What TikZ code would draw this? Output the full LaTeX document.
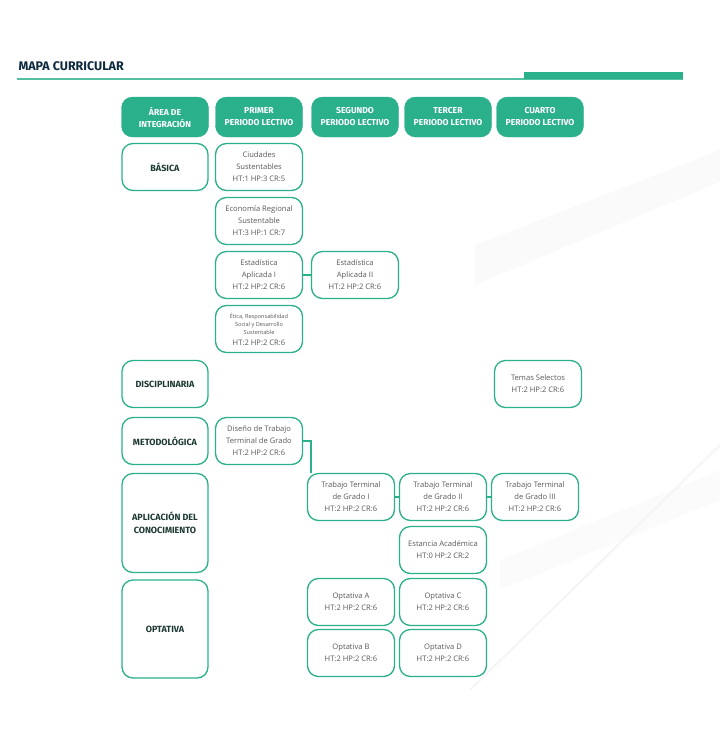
\documentclass[tikz,border=0pt]{standalone}
\usepackage{fontspec}
\setmainfont{Open Sans}
\newfontfamily\hfont{Fira Sans}
\begin{document}
\definecolor{teal}{HTML}{2BB08C}
\definecolor{navy}{HTML}{0D2A3F}
\definecolor{txt}{HTML}{5A5A5A}
\definecolor{dk}{HTML}{1E3A34}
\begin{tikzpicture}[x=1pt,y=-1pt,
 hd/.style={fill=teal,draw=teal,rounded corners=11pt,text=white,align=center,font=\hfont\bfseries\fontsize{8.6}{12}\selectfont,inner sep=0pt},
 ar/.style={draw=teal,line width=1.3pt,fill=white,rounded corners=11pt,align=center,font=\hfont\bfseries\fontsize{9}{12.5}\selectfont,text=dk,inner sep=0pt},
 cr/.style={draw=teal,line width=1.3pt,fill=white,rounded corners=11pt,align=center,font=\fontsize{7.6}{12}\selectfont,text=txt,inner sep=0pt},
 ln/.style={draw=teal,line width=1.2pt}]
\useasboundingbox (0,0) rectangle (720,756);
\fill[gray!4] (475,245) -- (720,150) -- (720,182) -- (475,285) -- cycle;
\fill[gray!3] (500,560) -- (720,470) -- (720,500) -- (500,590) -- cycle;
\draw[gray!8,line width=2pt] (470,690) -- (720,445);
\node[anchor=west,font=\hfont\bfseries\fontsize{12.5}{14}\selectfont,text=navy] (title) at (15,66) {MAPA CURRICULAR};
\draw[teal!80,line width=1.2pt] (17,79) -- (683,79);
\fill[teal] (524,72) rectangle (683,79);
% headers
\node[hd,minimum width=87pt,minimum height=40pt] (h0) at (165,117) {ÁREA DE\\INTEGRACIÓN};
\node[hd,minimum width=87pt,minimum height=40pt] (h1) at (259,117) {PRIMER\\PERIODO LECTIVO};
\node[hd,minimum width=87pt,minimum height=40pt] (h2) at (355,117) {SEGUNDO\\PERIODO LECTIVO};
\node[hd,minimum width=87pt,minimum height=40pt] (h3) at (448,117) {TERCER\\PERIODO LECTIVO};
\node[hd,minimum width=87pt,minimum height=40pt] (h4) at (540,117) {CUARTO\\PERIODO LECTIVO};
% areas
\node[ar,minimum width=86pt,minimum height=47pt] (basica) at (165,167) {BÁSICA};
\node[ar,minimum width=86pt,minimum height=47pt] (disc) at (165,384) {DISCIPLINARIA};
\node[ar,minimum width=86pt,minimum height=47pt] (met) at (165,441) {METODOLÓGICA};
\node[ar,minimum width=86pt,minimum height=99pt] (apl) at (165,523) {APLICACIÓN DEL\\CONOCIMIENTO};
\node[ar,minimum width=86pt,minimum height=98pt] (opt) at (165,629) {OPTATIVA};
% courses
\node[cr,minimum width=87pt,minimum height=47pt] (ciu) at (259,167) {Ciudades\\Sustentables\\HT:1 HP:3 CR:5};
\node[cr,minimum width=87pt,minimum height=47pt] (eco) at (259,221) {Economía Regional\\Sustentable\\HT:3 HP:1 CR:7};
\node[cr,minimum width=87pt,minimum height=47pt] (est1) at (259,275) {Estadística\\Aplicada I\\HT:2 HP:2 CR:6};
\node[cr,minimum width=87pt,minimum height=47pt] (est2) at (355,275) {Estadística\\Aplicada II\\HT:2 HP:2 CR:6};
\node[cr,minimum width=87pt,minimum height=47pt,font=\fontsize{5.6}{8}\selectfont] (eti) at (259,329) {Ética, Responsabilidad\\Social y Desarrollo\\Sustentable\\[3pt]{\fontsize{7.6}{9}\selectfont HT:2 HP:2 CR:6}};
\node[cr,minimum width=87pt,minimum height=47pt] (tem) at (538,384) {Temas Selectos\\HT:2 HP:2 CR:6};
\node[cr,minimum width=87pt,minimum height=47pt] (dis) at (259,441) {Diseño de Trabajo\\Terminal de Grado\\HT:2 HP:2 CR:6};
\node[cr,minimum width=87pt,minimum height=47pt] (tt1) at (351,497) {Trabajo Terminal\\de Grado I\\HT:2 HP:2 CR:6};
\node[cr,minimum width=87pt,minimum height=47pt] (tt2) at (443,497) {Trabajo Terminal\\de Grado II\\HT:2 HP:2 CR:6};
\node[cr,minimum width=87pt,minimum height=47pt] (tt3) at (535,497) {Trabajo Terminal\\de Grado III\\HT:2 HP:2 CR:6};
\node[cr,minimum width=87pt,minimum height=47pt] (esa) at (443,550) {Estancia Académica\\HT:0 HP:2 CR:2};
\node[cr,minimum width=87pt,minimum height=47pt] (oa) at (351,602) {Optativa A\\HT:2 HP:2 CR:6};
\node[cr,minimum width=87pt,minimum height=47pt] (oc) at (443,602) {Optativa C\\HT:2 HP:2 CR:6};
\node[cr,minimum width=87pt,minimum height=47pt] (ob) at (351,653) {Optativa B\\HT:2 HP:2 CR:6};
\node[cr,minimum width=87pt,minimum height=47pt] (od) at (443,653) {Optativa D\\HT:2 HP:2 CR:6};
% connectors
\coordinate (bend) at (311,441);
\draw[ln] (est1) -- (est2);
\draw[ln] (dis.east) -- (bend) -- (bend |- tt1.north);
\draw[ln] (tt1) -- (tt2);
\draw[ln] (tt2) -- (tt3);
\end{tikzpicture}
\end{document}
